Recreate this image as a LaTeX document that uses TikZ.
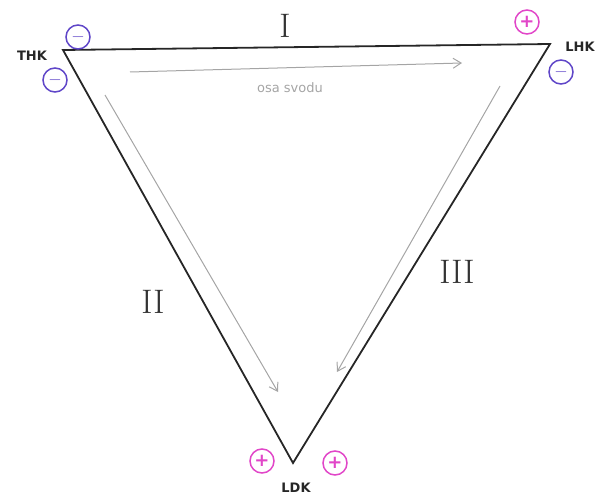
\documentclass[tikz,border=0pt]{standalone}
\usepackage{fontspec}
\setsansfont{DejaVu Sans}
\usetikzlibrary{arrows.meta}
\definecolor{minuscol}{RGB}{95,70,200}
\definecolor{pluscol}{RGB}{225,70,200}
\definecolor{axiscol}{RGB}{165,165,165}
\tikzset{
  edge/.style={draw=black!85, line width=1.8pt, line join=miter},
  axis/.style={draw=axiscol, line width=1pt, -{Straight Barb[length=8pt,width=10pt]}},
  chargem/.style={circle, draw=minuscol, line width=1.5pt, text=minuscol, minimum size=24pt, inner sep=0pt, font=\sffamily\bfseries\fontsize{18}{18}\selectfont},
  chargep/.style={circle, draw=pluscol, line width=1.5pt, text=pluscol, minimum size=24pt, inner sep=0pt, font=\sffamily\bfseries\fontsize{18}{18}\selectfont},
  lead/.style={font=\sffamily\bfseries\fontsize{13}{13}\selectfont, text=black!85},
  romanlbl/.style={font=\fontsize{34}{34}\selectfont, text=black!80},
  axtext/.style={font=\sffamily\fontsize{13}{13}\selectfont, text=axiscol}
}
\begin{document}
\begin{tikzpicture}[x=1pt,y=-1pt]
\useasboundingbox (0,0) rectangle (609,497);
\coordinate (A) at (63,50);
\coordinate (B) at (550,44);
\coordinate (C) at (293,463);
\draw[edge] (A) -- (B) -- (C) -- cycle;
% axis arrows
\coordinate (a1s) at (130,72); \coordinate (a1e) at (462,63);
\coordinate (a2s) at (105,95); \coordinate (a2e) at (278,392);
\coordinate (a3s) at (500,86); \coordinate (a3e) at (337,372);
\draw[axis] (a1s) -- (a1e);
\draw[axis] (a2s) -- (a2e);
\draw[axis] (a3s) -- (a3e);
\node[axtext] (osa) at (290,88) {osa svodu};
% roman numerals
\node[romanlbl] (r1) at (285,26) {I};
\node[romanlbl] (r2) at (153,302) {II};
\node[romanlbl] (r3) at (457,272) {III};
% leads
\node[lead] (thk) at (32,56) {THK};
\node[lead] (lhk) at (580,47) {LHK};
\node[lead] (ldk) at (296,488) {LDK};
% charges
\node[chargem] (m1) at (78,37) {$-$};
\node[chargem] (m2) at (55,80) {$-$};
\node[chargep] (p1) at (527,22) {+};
\node[chargem] (m3) at (561,72) {$-$};
\node[chargep] (p2) at (262,461) {+};
\node[chargep] (p3) at (335,463) {+};
\end{tikzpicture}
\end{document}
